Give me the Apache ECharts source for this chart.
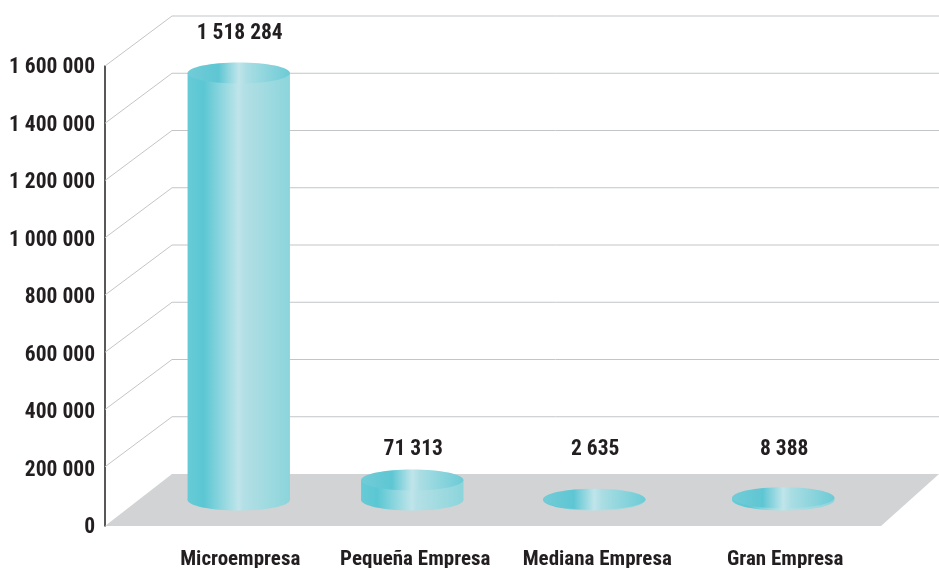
<!DOCTYPE html>
<html>
<head>
<meta charset="utf-8">
<style>html,body{margin:0;padding:0;background:#fff}#c{width:939px;height:568px}</style>
<script src="https://cdn.jsdelivr.net/npm/echarts@6/dist/echarts.min.js"></script>
</head>
<body>
<div id="c"></div>
<script>
const categories = ['Microempresa', 'Pequeña Empresa', 'Mediana Empresa', 'Gran Empresa'];
const values = [1518284, 71313, 2635, 8388];
const valueLabels = ['1 518 284', '71 313', '2 635', '8 388'];
const yTicks = [0, 200000, 400000, 600000, 800000, 1000000, 1200000, 1400000, 1600000];

const FONT = '"Roboto Condensed","Open Sans Condensed",sans-serif';
const INK = '#231f20';
const barNudge = [0, -8, -7.5, 0];
const catLabelPad = [[0,0,0,3],[0,10,0,0],[0,9,0,0],[0,0,0,4]];

const bodyFill = {type:'linear',x:0,y:0,x2:1,y2:0,colorStops:[
  {offset:0,color:'#66cbd6'},{offset:0.16,color:'#5bc7d3'},{offset:0.5,color:'#bfe5ea'},
  {offset:0.54,color:'#b4e0e6'},{offset:1,color:'#8bd5db'}]};
const topFill = {type:'linear',x:0,y:0,x2:1,y2:0,colorStops:[
  {offset:0,color:'#72ccd7'},{offset:0.3,color:'#5ec6d3'},{offset:0.5,color:'#bfe5ea'},
  {offset:0.58,color:'#a9dde3'},{offset:1,color:'#6ccbd6'}]};

function renderWall(params, api) {
  const cs = params.coordSys;
  const v = api.value(1);
  const y = api.coord([0, v])[1];
  const L = cs.x, R = cs.x + cs.width;
  if (v === 0) {
    return {type:'polygon', z2:0, shape:{points:[[L,y],[R,y],[881,y+52],[105,y+52]]},
      style:{fill:'#d1d3d4'}};
  }
  return {type:'polyline', z2:1, shape:{points:[[105,y+50],[L,y],[R,y]]},
    style:{fill:'none',stroke:'#c3c5c7',lineWidth:1}};
}

function renderCyl(params, api) {
  const i = params.dataIndex;
  const p0 = api.coord([i, 0]);
  const p1 = api.coord([i, api.value(1)]);
  const cx = p0[0] + barNudge[i];
  const rx = api.size([1, 0])[0] * 0.282;
  const ry = 10.5;
  const top = p1[1], base = p0[1];
  const labelY = top < 400 ? top - 39 : 450;
  return {type:'group', children:[
    {type:'ellipse', shape:{cx:cx,cy:base,rx:rx,ry:ry}, style:{fill:bodyFill}},
    {type:'rect', shape:{x:cx-rx,y:top,width:rx*2,height:base-top}, style:{fill:bodyFill}},
    {type:'ellipse', shape:{cx:cx,cy:top,rx:rx,ry:ry}, style:{fill:topFill}},
    {type:'text', style:{x:cx+1,y:labelY,text:valueLabels[i],fill:INK,align:'center',verticalAlign:'middle',
      font:'bold 21.5px '+FONT}}
  ]};
}

const chart = echarts.init(document.getElementById('c'), null, {renderer:'canvas'});
chart.setOption({
  animation:false,
  backgroundColor:'#ffffff',
  grid:[
    {left:105, top:66, width:776, height:460, outerBoundsMode:'none'},
    {left:172, top:16, width:767, height:458, outerBoundsMode:'none'},
    {left:148, top:50, width:726, height:450, outerBoundsMode:'none'}
  ],
  xAxis:[
    {gridIndex:0,type:'value',min:0,max:1,show:false},
    {gridIndex:1,type:'value',min:0,max:1,show:false},
    {gridIndex:2,type:'category',
      data:categories.map((c,i)=>({value:c,textStyle:{padding:catLabelPad[i]}})),
      axisLine:{show:false},axisTick:{show:false},
      axisLabel:{interval:0,margin:49,color:INK,fontFamily:FONT,fontWeight:'bold',fontSize:21}}
  ],
  yAxis:[
    {gridIndex:0,type:'value',min:0,max:1600000,interval:200000,
      axisLine:{show:true,lineStyle:{color:INK,width:1.5}},axisTick:{show:false},splitLine:{show:false},
      axisLabel:{margin:10,color:INK,fontFamily:FONT,fontWeight:'bold',fontSize:21.5,
        verticalAlign:'top',lineHeight:4,
        formatter:v=>String(v).replace(/\B(?=(\d{3})+$)/g,' ')}},
    {gridIndex:1,type:'value',min:0,max:1600000,interval:200000,show:false,splitLine:{show:false}},
    {gridIndex:2,type:'value',min:0,max:1600000,interval:200000,show:false,splitLine:{show:false}}
  ],
  series:[
    {type:'custom',xAxisIndex:1,yAxisIndex:1,z:1,silent:true,clip:false,
      data:yTicks.map(v=>[0,v]),renderItem:renderWall},
    {type:'custom',xAxisIndex:2,yAxisIndex:2,z:3,silent:true,clip:false,
      data:values.map((v,i)=>[i,v]),encode:{x:0,y:1},renderItem:renderCyl}
  ]
});
</script>
</body>
</html>
